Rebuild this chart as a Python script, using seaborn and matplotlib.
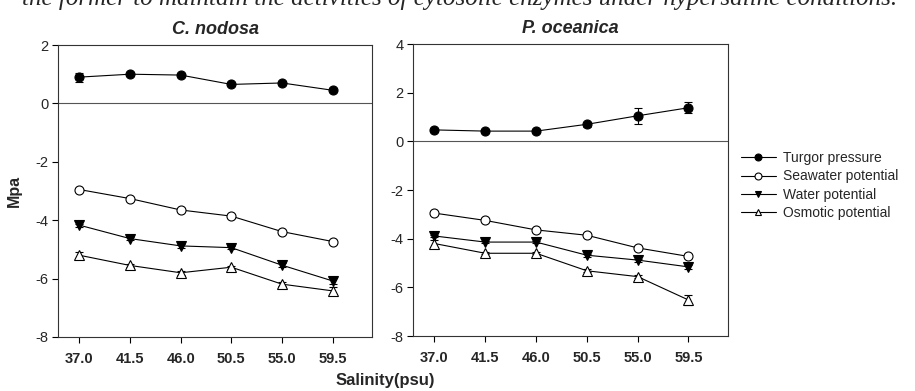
import matplotlib
matplotlib.use("Agg")
import matplotlib.pyplot as plt
import seaborn as sns
import pandas as pd
import numpy as np
from matplotlib.lines import Line2D

sns.set_style("white")
plt.rcParams['font.family'] = ['Liberation Sans', 'DejaVu Sans']

salinity = [37.0, 41.5, 46.0, 50.5, 55.0, 59.5]
tick_labels = ["37.0", "41.5", "46.0", "50.5", "55.0", "59.5"]
series_names = ["Turgor pressure", "Seawater potential", "Water potential", "Osmotic potential"]

# C. nodosa
cn_turgor = [0.90, 1.00, 0.97, 0.65, 0.70, 0.45]
cn_turgor_err = [0.15, 0.06, 0.05, 0.05, 0.07, 0.07]
cn_seawater = [-2.95, -3.26, -3.65, -3.86, -4.39, -4.73]
cn_seawater_err = [0.0, 0.0, 0.0, 0.0, 0.0, 0.0]
cn_water = [-4.17, -4.63, -4.88, -4.94, -5.54, -6.08]
cn_water_err = [0.05, 0.05, 0.06, 0.05, 0.07, 0.10]
cn_osmotic = [-5.20, -5.55, -5.80, -5.61, -6.19, -6.42]
cn_osmotic_err = [0.12, 0.05, 0.06, 0.05, 0.06, 0.12]

# P. oceanica
po_turgor = [0.47, 0.42, 0.42, 0.70, 1.05, 1.38]
po_turgor_err = [0.06, 0.05, 0.05, 0.10, 0.33, 0.23]
po_seawater = [-2.95, -3.25, -3.64, -3.86, -4.38, -4.73]
po_seawater_err = [0.0, 0.0, 0.0, 0.0, 0.0, 0.0]
po_water = [-3.89, -4.14, -4.14, -4.68, -4.88, -5.16]
po_water_err = [0.05, 0.05, 0.05, 0.06, 0.06, 0.07]
po_osmotic = [-4.20, -4.60, -4.60, -5.32, -5.56, -6.52]
po_osmotic_err = [0.15, 0.05, 0.05, 0.07, 0.07, 0.22]

styles = {
    "Turgor pressure": dict(marker="o", mfc="black"),
    "Seawater potential": dict(marker="o", mfc="white"),
    "Water potential": dict(marker="v", mfc="black"),
    "Osmotic potential": dict(marker="^", mfc="white"),
}

def build(vals, errs):
    rows = []
    for name, v, e in zip(series_names, vals, errs):
        for s, y, ee in zip(salinity, v, e):
            rows.append(dict(salinity=s, value=y, err=ee, series=name))
    return pd.DataFrame(rows)

df_cn = build([cn_turgor, cn_seawater, cn_water, cn_osmotic],
              [cn_turgor_err, cn_seawater_err, cn_water_err, cn_osmotic_err])
df_po = build([po_turgor, po_seawater, po_water, po_osmotic],
              [po_turgor_err, po_seawater_err, po_water_err, po_osmotic_err])

fig = plt.figure(figsize=(9.15, 3.91), dpi=100)
ax1 = fig.add_axes([58/915, 54/391, 314/915, 292/391])
ax2 = fig.add_axes([413/915, 55/391, 315/915, 292/391])

def draw(ax, df, ylim, yticks, title):
    for name in series_names:
        sub = df[df.series == name]
        st = styles[name]
        ax.errorbar(sub.salinity, sub.value, yerr=sub.err, fmt="none",
                    ecolor="black", elinewidth=0.8, capsize=3.2, capthick=0.8, zorder=2)
        sns.lineplot(data=sub, x="salinity", y="value", ax=ax, color="black",
                     linewidth=0.8, marker=st["marker"], markersize=6.5 if st["marker"] == "o" else 7,
                     markerfacecolor=st["mfc"], markeredgecolor="black", markeredgewidth=0.8,
                     legend=False, errorbar=None, zorder=3)
    ax.axhline(0, color="#555555", linewidth=0.8, zorder=1)
    ax.set_xlim(35.1, 63.0)
    ax.set_ylim(*ylim)
    ax.set_xticks(salinity)
    ax.set_xticklabels(tick_labels, fontweight="bold", fontsize=10.5)
    ax.set_yticks(yticks)
    ax.set_yticklabels([str(t) for t in yticks], fontsize=10.5)
    ax.tick_params(axis="both", direction="out", length=4, width=0.8, color="black",
                   bottom=True, left=True, pad=3)
    ax.tick_params(axis="x", pad=7)
    for sp in ax.spines.values():
        sp.set_color("#333333")
        sp.set_linewidth(0.8)
    ax.set_xlabel("")
    ax.set_ylabel("")
    ax.set_title(title, fontsize=13, fontweight="bold", fontstyle="italic", pad=8)

draw(ax1, df_cn, (-8, 2), [2, 0, -2, -4, -6, -8], "C. nodosa")
draw(ax2, df_po, (-8, 4), [4, 2, 0, -2, -4, -6, -8], "P. oceanica")

ax1.set_ylabel("Mpa", fontsize=11.5, fontweight="bold", labelpad=10)
fig.text(385/915, 1 - 381/391, "Salinity(psu)", ha="center", va="center",
         fontsize=12, fontweight="bold")

fig.text(460/915, 1 - 5/391, "the former to maintain the activities of cytosolic enzymes under hypersaline conditions.",
         ha="center", va="baseline", fontsize=18, fontstyle="italic",
         family=["Liberation Serif", "DejaVu Serif"])

handles = []
for name in series_names:
    st = styles[name]
    handles.append(Line2D([], [], color="black", linewidth=0.8, marker=st["marker"],
                          markersize=5, markerfacecolor=st["mfc"], markeredgecolor="black",
                          markeredgewidth=0.8))
fig.legend(handles, series_names, loc="upper left", bbox_to_anchor=(734/915, 1 - 144/391),
           frameon=False, fontsize=10, handlelength=2.5, handletextpad=0.55,
           labelspacing=0.32, borderpad=0)

fig.savefig("out.png", dpi=100)
